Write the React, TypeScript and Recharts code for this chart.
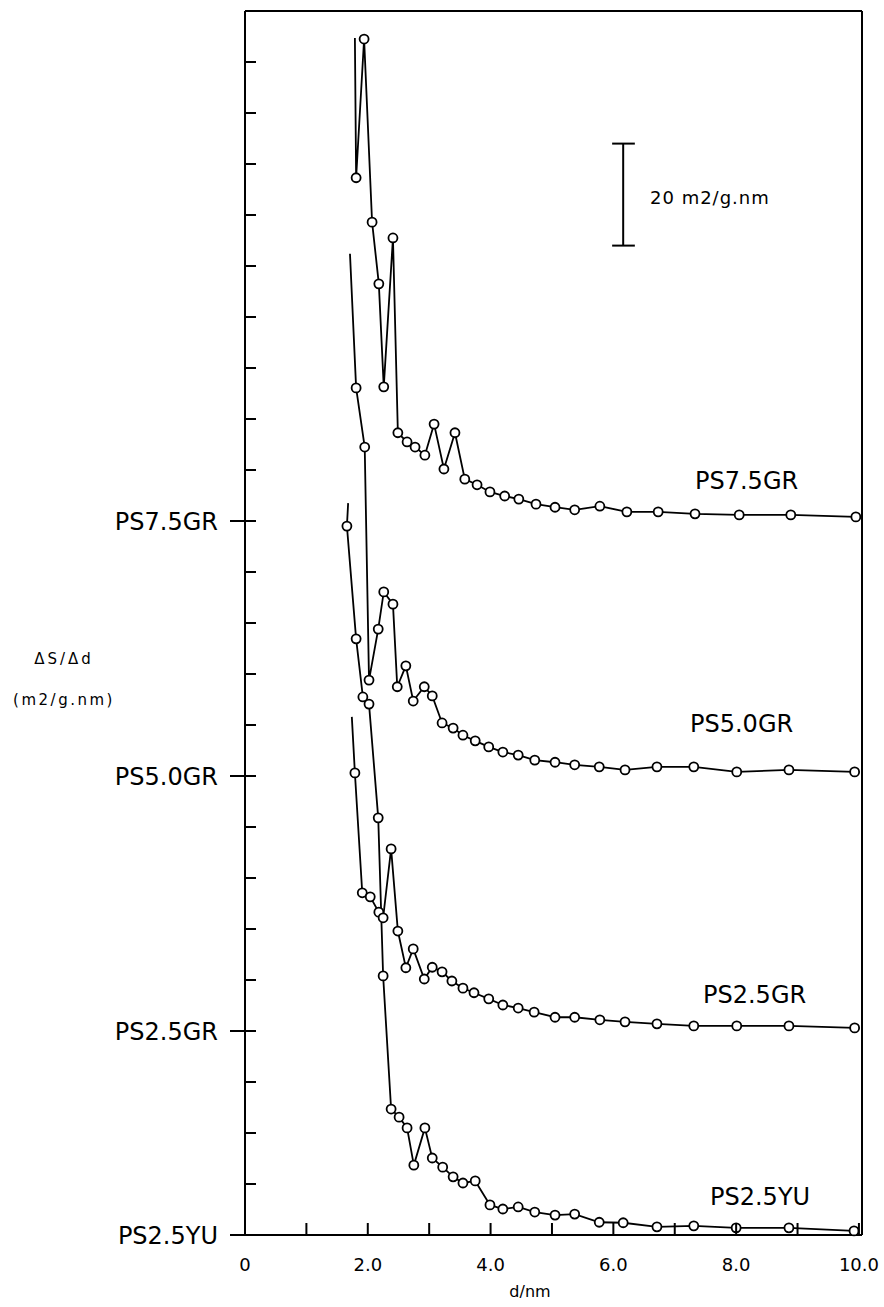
import { LineChart, Line, XAxis, YAxis, ReferenceLine, Customized } from 'recharts';

// pore diameter d (nm) and dS/dd (m2/g.nm), one pair of arrays per sample
const ps75D = [1.79, 1.81, 1.94, 2.07, 2.18, 2.26, 2.41, 2.49, 2.64, 2.77, 2.93, 3.08, 3.24, 3.42, 3.58, 3.78, 3.99, 4.23, 4.46, 4.74, 5.05, 5.37, 5.78, 6.22, 6.73, 7.33, 8.05, 8.89, 9.95];
const ps75V = [94.7, 67.3, 94.5, 58.6, 46.5, 26.3, 55.5, 17.3, 15.5, 14.5, 12.9, 19.0, 10.2, 17.3, 8.2, 7.1, 5.7, 4.9, 4.3, 3.3, 2.7, 2.2, 2.9, 1.8, 1.8, 1.4, 1.2, 1.2, 0.8];

const ps50D = [1.71, 1.81, 1.95, 2.02, 2.17, 2.26, 2.41, 2.48, 2.62, 2.74, 2.92, 3.05, 3.21, 3.39, 3.55, 3.75, 3.97, 4.2, 4.45, 4.72, 5.05, 5.37, 5.77, 6.19, 6.71, 7.31, 8.01, 8.86, 9.93];
const ps50V = [102.4, 76.1, 64.5, 18.8, 28.8, 36.1, 33.7, 17.5, 21.6, 14.7, 17.5, 15.7, 10.4, 9.4, 8.0, 6.9, 5.7, 4.7, 4.1, 3.1, 2.7, 2.2, 1.8, 1.2, 1.8, 1.8, 0.8, 1.2, 0.8];

const ps25gD = [1.74, 1.79, 1.91, 2.04, 2.18, 2.25, 2.38, 2.49, 2.62, 2.74, 2.92, 3.05, 3.21, 3.37, 3.55, 3.73, 3.97, 4.2, 4.45, 4.71, 5.05, 5.37, 5.78, 6.19, 6.71, 7.31, 8.01, 8.86, 9.93];
const ps25gV = [61.6, 50.6, 27.1, 26.3, 23.3, 22.2, 35.7, 19.6, 12.4, 16.1, 10.2, 12.5, 11.6, 9.8, 8.4, 7.5, 6.3, 5.1, 4.5, 3.7, 2.7, 2.7, 2.2, 1.8, 1.4, 1.0, 1.0, 1.0, 0.6];

const ps25yD = [1.68, 1.66, 1.81, 1.92, 2.02, 2.17, 2.25, 2.38, 2.51, 2.64, 2.75, 2.93, 3.05, 3.22, 3.39, 3.55, 3.75, 3.99, 4.2, 4.45, 4.72, 5.05, 5.37, 5.77, 6.16, 6.71, 7.31, 8.0, 8.86, 9.92];
const ps25yV = [143.5, 139.0, 116.9, 105.5, 104.1, 81.8, 50.8, 24.7, 23.1, 21.0, 13.7, 21.0, 15.1, 13.3, 11.4, 10.2, 10.6, 5.9, 5.1, 5.5, 4.5, 3.9, 4.1, 2.5, 2.4, 1.6, 1.8, 1.4, 1.4, 0.8];

// each curve is shifted up by its own baseline on the y axis
const seriesNames = ['PS2.5YU', 'PS2.5GR', 'PS5.0GR', 'PS7.5GR'];
const seriesOffsets = [0, 40, 90, 140];

const xTicks = [0, 1, 2, 3, 4, 5, 6, 7, 8, 9, 10];
const yTicks = Array.from({ length: 25 }, (_, i) => i * 10);

const FONT = '"DejaVu Sans", sans-serif';

const build = (d: number[], v: number[], offset: number) =>
  d.map((x, i) => ({ d: x, y: v[i] + offset }));

const series = [
  build(ps25yD, ps25yV, seriesOffsets[0]),
  build(ps25gD, ps25gV, seriesOffsets[1]),
  build(ps50D, ps50V, seriesOffsets[2]),
  build(ps75D, ps75V, seriesOffsets[3]),
];

const baseLabel: Record<number, string> = {};
seriesOffsets.forEach((o, i) => (baseLabel[o] = seriesNames[i]));

// first point of every curve is drawn without a marker
const Dot = (props: any) => {
  const { cx, cy, index } = props;
  if (index === 0) return <g key={`d-${index}`} />;
  return <circle key={`d-${index}`} cx={cx} cy={cy} r={4.5} fill="#fff" stroke="#000" strokeWidth={1.8} />;
};

const YTick = ({ x, y, payload }: any) => {
  const label = baseLabel[payload.value];
  return (
    <g>
      <line x1={label ? x - 15 : x} x2={x + 11} y1={y} y2={y} stroke="#000" strokeWidth={2} />
      {label && (
        <text x={x - 27} y={y} dy="0.36em" textAnchor="end" fontSize={24} fontFamily={FONT} fill="#000">
          {label}
        </text>
      )}
    </g>
  );
};

const XTick = ({ x, y, payload }: any) => {
  const v = payload.value;
  return (
    <g>
      {v !== 0 && <line x1={x} x2={x} y1={y} y2={y - 12} stroke="#000" strokeWidth={2} />}
      {v % 2 === 0 && (
        <text x={x} y={y + 36} textAnchor="middle" fontSize={18} fontFamily={FONT} fill="#000">
          {v === 0 ? '0' : v.toFixed(1)}
        </text>
      )}
    </g>
  );
};

const Texts = () => (
  <g fontFamily={FONT} fill="#000">
    <text x={64} y={664} textAnchor="middle" fontSize={15} letterSpacing={3}>ΔS/Δd</text>
    <text x={64} y={705} textAnchor="middle" fontSize={15} letterSpacing={2.5}>(m2/g.nm)</text>
    <text x={530} y={1297} textAnchor="middle" fontSize={16}>d/nm</text>
    <text x={650} y={204} fontSize={18} letterSpacing={1}>20 m2/g.nm</text>
    <text x={695} y={489} fontSize={24}>PS7.5GR</text>
    <text x={690} y={732} fontSize={24}>PS5.0GR</text>
    <text x={703} y={1003} fontSize={24}>PS2.5GR</text>
    <text x={710} y={1205} fontSize={24}>PS2.5YU</text>
  </g>
);

export default function App() {
  return (
    <div style={{ position: 'absolute', left: 0, top: 0, background: '#fff' }}>
      <LineChart width={884} height={1307} margin={{ top: 11, right: 22, bottom: 0, left: 0 }}>
        <XAxis
          type="number"
          dataKey="d"
          domain={[0, 10.05]}
          ticks={xTicks}
          interval={0}
          allowDataOverflow
          height={72}
          tickSize={0}
          tickMargin={0}
          tickLine={false}
          tick={<XTick />}
          axisLine={{ stroke: '#000', strokeWidth: 2 }}
        />
        <YAxis
          type="number"
          dataKey="y"
          domain={[0, 240]}
          ticks={yTicks}
          interval={0}
          width={245}
          tickSize={0}
          tickMargin={0}
          tickLine={false}
          tick={<YTick />}
          axisLine={{ stroke: '#000', strokeWidth: 2 }}
        />
        <ReferenceLine y={240} stroke="#000" strokeWidth={2} />
        <ReferenceLine x={10.05} stroke="#000" strokeWidth={2} />
        {/* 20 m2/g.nm scale bar */}
        <ReferenceLine segment={[{ x: 6.16, y: 194 }, { x: 6.16, y: 214 }]} stroke="#000" strokeWidth={2} />
        <ReferenceLine segment={[{ x: 5.98, y: 194 }, { x: 6.35, y: 194 }]} stroke="#000" strokeWidth={2} />
        <ReferenceLine segment={[{ x: 5.98, y: 214 }, { x: 6.35, y: 214 }]} stroke="#000" strokeWidth={2} />
        {series.map((data, i) => (
          <Line
            key={seriesNames[i]}
            data={data}
            dataKey="y"
            type="linear"
            stroke="#000"
            strokeWidth={1.8}
            dot={Dot}
            activeDot={false}
            isAnimationActive={false}
          />
        ))}
        <Customized component={Texts} />
      </LineChart>
    </div>
  );
}
